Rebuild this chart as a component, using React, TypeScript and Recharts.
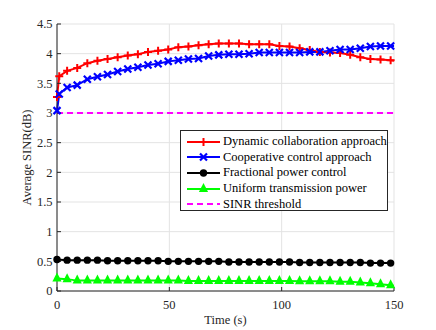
import React from 'react'
import { CartesianGrid, Legend, Line, LineChart, XAxis, YAxis } from 'recharts'

// sample instants (s) where markers sit; the last one closes the curve at 150 s
const sampleTimes = [0, 4.5, 9, 13.5, 18, 22.5, 27, 31.5, 36, 40.5, 45, 49.5, 54, 58.5, 63, 67.5, 72, 76.5, 81, 85.5, 90, 94.5, 99, 103.5, 108, 112.5, 117, 121.5, 126, 130.5, 135, 139.5, 144, 148.5, 150]
// the two adaptive schemes have one extra early sample at t = 1 s
const earlyTimes = [0, 1, ...sampleTimes.slice(1)]
const thresholdTimes = [0, 150]

const dynamicSinr = [3.27, 3.62, 3.71, 3.76, 3.84, 3.88, 3.91, 3.94, 3.97, 3.99, 4.03, 4.05, 4.07, 4.11, 4.12, 4.14, 4.16, 4.17, 4.17, 4.17, 4.16, 4.16, 4.16, 4.13, 4.12, 4.09, 4.06, 4.03, 4.02, 4.01, 3.98, 3.94, 3.91, 3.9, 3.89, 3.88]
const cooperativeSinr = [3.04, 3.32, 3.43, 3.47, 3.57, 3.61, 3.65, 3.7, 3.74, 3.77, 3.81, 3.83, 3.87, 3.89, 3.91, 3.92, 3.96, 3.98, 3.99, 3.99, 4.0, 4.02, 4.02, 4.02, 4.02, 4.02, 4.03, 4.03, 4.05, 4.07, 4.07, 4.09, 4.12, 4.13, 4.13, 4.13]
const fractionalSinr = [0.53, 0.52, 0.52, 0.52, 0.52, 0.51, 0.51, 0.51, 0.51, 0.51, 0.51, 0.5, 0.5, 0.5, 0.5, 0.5, 0.5, 0.49, 0.49, 0.49, 0.49, 0.49, 0.49, 0.49, 0.48, 0.48, 0.48, 0.48, 0.48, 0.48, 0.48, 0.47, 0.47, 0.47, 0.47]
const uniformSinr = [0.21, 0.2, 0.175, 0.175, 0.175, 0.175, 0.175, 0.175, 0.175, 0.175, 0.175, 0.175, 0.175, 0.17, 0.17, 0.17, 0.17, 0.17, 0.17, 0.17, 0.17, 0.17, 0.17, 0.17, 0.165, 0.165, 0.165, 0.165, 0.155, 0.155, 0.145, 0.13, 0.115, 0.095, 0.09]
const thresholdSinr = [3, 3]

const seriesNames = ['Dynamic collaboration approach', 'Cooperative control approach', 'Fractional power control', 'Uniform transmission power', 'SINR threshold']
const timeTicks = [0, 50, 100, 150]
const sinrTicks = [0, 0.5, 1, 1.5, 2, 2.5, 3, 3.5, 4, 4.5]

const toPoints = (ts: number[], vs: number[]) => ts.map((t, i) => ({ t, v: vs[i] }))

const FONT = 'Liberation Serif'
const AXIS = '#262626'
const FS = 12.5

type Kind = 'plus' | 'cross' | 'circle' | 'triangle' | 'none'

function Marker({ kind, cx, cy, color }: { kind: Kind; cx: number; cy: number; color: string }) {
    switch (kind) {
        case 'plus':
            return <path d={`M${cx - 4},${cy}H${cx + 4}M${cx},${cy - 4}V${cy + 4}`} stroke={color} strokeWidth={2} fill="none" />
        case 'cross':
            return <path d={`M${cx - 3.5},${cy - 3.5}L${cx + 3.5},${cy + 3.5}M${cx - 3.5},${cy + 3.5}L${cx + 3.5},${cy - 3.5}`} stroke={color} strokeWidth={2.2} fill="none" />
        case 'circle':
            return <circle cx={cx} cy={cy} r={3.7} fill={color} />
        case 'triangle':
            return <path d={`M${cx},${cy - 6}L${cx + 4.6},${cy + 3}L${cx - 4.6},${cy + 3}Z`} fill={color} />
        default:
            return null
    }
}

// no marker on the closing 150 s sample
const dotFor = (kind: Kind, color: string) => (p: any) => {
    const key = `${kind}-${p.index}`
    if (p.cx == null || p.cy == null || p.payload?.t === 150) return <g key={key} />
    return <g key={key}><Marker kind={kind} cx={p.cx} cy={p.cy} color={color} /></g>
}

const series = [
    { name: seriesNames[0], data: toPoints(earlyTimes, dynamicSinr), color: '#ff0000', kind: 'plus' as Kind },
    { name: seriesNames[1], data: toPoints(earlyTimes, cooperativeSinr), color: '#0000ff', kind: 'cross' as Kind },
    { name: seriesNames[2], data: toPoints(sampleTimes, fractionalSinr), color: '#000000', kind: 'circle' as Kind },
    { name: seriesNames[3], data: toPoints(sampleTimes, uniformSinr), color: '#00ff00', kind: 'triangle' as Kind },
    { name: seriesNames[4], data: toPoints(thresholdTimes, thresholdSinr), color: '#ff00ff', kind: 'none' as Kind },
]

const LegendBox = () => (
    <div style={{ border: `1px solid ${AXIS}`, background: '#fff', width: 208, height: 81, boxSizing: 'border-box', paddingTop: 3, fontFamily: FONT, fontSize: FS, color: '#000' }}>
        {series.map(s => (
            <div key={s.name} style={{ display: 'flex', alignItems: 'center', height: 15.6, whiteSpace: 'nowrap' }}>
                <svg width={42} height={12} style={{ flex: 'none' }}>
                    <line x1={6} y1={6} x2={39} y2={6} stroke={s.color} strokeWidth={2} strokeDasharray={s.kind === 'none' ? '6 4' : undefined} />
                    <Marker kind={s.kind} cx={22.5} cy={6} color={s.color} />
                </svg>
                <span>{s.name}</span>
            </div>
        ))}
    </div>
)

export default function App() {
    return (
        <div style={{ position: 'absolute', left: 0, top: 0 }}>
            <LineChart width={436} height={330} margin={{ top: 24, right: 42, bottom: 0, left: 17 }}>
                <CartesianGrid stroke="#e3e3e3" strokeWidth={1} />
                <XAxis
                    type="number" dataKey="t" domain={[0, 150]} ticks={timeTicks} height={39}
                    stroke={AXIS} tickSize={-4} tickMargin={13}
                    tick={{ fill: AXIS, fontFamily: FONT, fontSize: FS }}
                    label={{ value: 'Time (s)', position: 'insideBottom', offset: 6, fill: AXIS, fontFamily: FONT, fontSize: FS }}
                />
                <XAxis xAxisId="top" orientation="top" type="number" domain={[0, 150]} ticks={timeTicks} height={0} stroke={AXIS} tickSize={-4} tick={false} />
                <YAxis
                    type="number" domain={[0, 4.5]} ticks={sinrTicks} width={40}
                    stroke={AXIS} tickSize={-4} tickMargin={8.5}
                    tick={{ fill: AXIS, fontFamily: FONT, fontSize: FS }}
                    label={{ value: 'Average SINR(dB)', angle: -90, position: 'insideLeft', offset: 10, fill: AXIS, fontFamily: FONT, fontSize: FS, style: { textAnchor: 'middle' } }}
                />
                <YAxis yAxisId="right" orientation="right" type="number" domain={[0, 4.5]} ticks={sinrTicks} width={0} stroke={AXIS} tickSize={-4} tick={false} />
                {series.map(s => (
                    <Line
                        key={s.name} data={s.data} dataKey="v" name={s.name} type="linear"
                        stroke={s.color} strokeWidth={2}
                        strokeDasharray={s.kind === 'none' ? '6 4' : undefined}
                        dot={s.kind === 'none' ? false : dotFor(s.kind, s.color)}
                        activeDot={false} isAnimationActive={false}
                    />
                ))}
                <Legend layout="vertical" align="center" verticalAlign="middle" wrapperStyle={{ left: 180, top: 130, width: 208 }} content={() => <LegendBox />} />
            </LineChart>
        </div>
    )
}
